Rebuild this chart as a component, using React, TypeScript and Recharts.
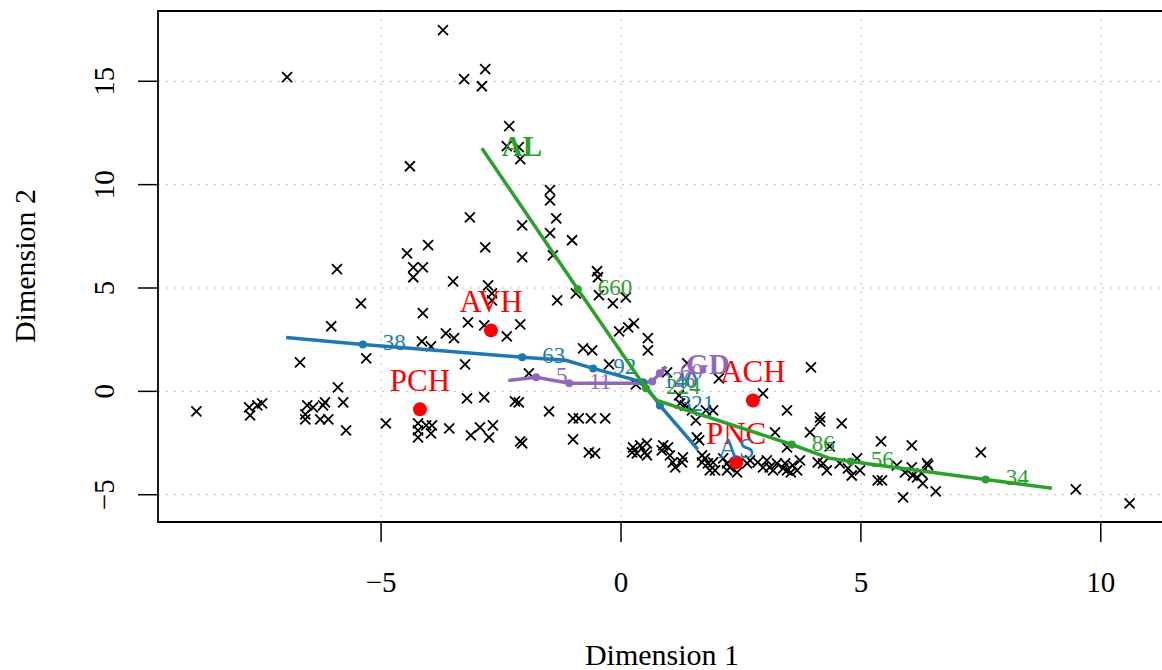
import React from 'react';
import { ScatterChart, Scatter, XAxis, YAxis, CartesianGrid, ReferenceArea, Label } from 'recharts';

const FONT = "'Liberation Serif', 'Times New Roman', Times, serif";

const X_DOMAIN: [number, number] = [-9.65, 11.38];
const Y_DOMAIN: [number, number] = [-6.32, 18.4];
const X_TICKS = [-5, 0, 5, 10];
const Y_TICKS = [-5, 0, 5, 10, 15];
const X_TITLE = 'Dimension 1';
const Y_TITLE = 'Dimension 2';

// observations (black crosses)
const OBS_X = [
  -6.96, -3.71, -2.83, -3.27, -2.90, -2.33, -2.38, -2.13, -2.10, -4.40,
  -1.48, -1.48, -1.35, -3.15, -2.06, -1.48, -1.02, -4.02, -4.46, -2.83,
  -2.06, -1.42, -5.92, -4.33, -4.13, -4.33, -3.50, -0.50, -0.48, -2.77,
  -2.69, -2.69, -0.94, -0.46, -5.42, -1.33, -0.17, 0.10, -4.13, -6.04,
  -3.19, -2.85, -2.10, -0.04, 0.15, 0.27, -3.65, -3.48, -2.38, -4.15,
  -3.96, 0.56, 0.56, -0.79, -0.60, -6.69, -5.31, -3.25, -0.25, -1.92,
  0.96, 1.38, 2.04, 3.96, -5.90, 0.31, 2.96,
  -8.85, -7.75, -7.58, -7.48, -7.73, -6.54, -6.42, -6.58, -6.58, -6.17,
  -6.21, -6.27, -6.10, -5.79, -5.73, -4.90, -3.21, -2.85, -2.21, -2.13,
  -4.23, -4.23, -4.23, -4.06, -3.94, -3.96, -3.58, -3.13, -2.94, -2.67,
  -2.75, -2.10, -2.06, -1.50, -1.00, -0.88, -0.63, -0.33, -1.00, -0.67, -0.54,
  1.21, 1.23, 1.33, 1.48, 1.77, 1.92, 1.56, 1.58, 1.63, 3.46,
  3.21, 3.94, 3.46, 4.15, 4.15, 4.60, 4.35, 5.42, 6.06, 7.50,
  9.48, 10.60, 5.88, 6.56,
  0.25, 0.40, 0.54, 0.23, 0.33, 0.50, 0.54, 0.88, 0.98, 0.85,
  1.02, 1.08, 1.13, 1.29, 1.27, 1.69, 1.75, 1.69, 1.81, 1.92,
  1.85, 1.96, 2.13, 2.21, 2.27, 2.21, 2.42, 2.63, 2.69, 2.85,
  2.96, 3.04, 3.10, 3.25, 3.17, 3.42, 3.46, 3.58, 3.67, 3.73,
  3.38, 3.54,
  4.10, 4.29, 4.21, 4.56, 4.73, 4.81, 4.92, 4.98, 5.35, 5.44,
  5.75, 5.92, 6.06, 6.08, 6.17, 6.27, 6.29, 6.38, 6.40,
];
const OBS_Y = [
  15.20, 17.47, 15.59, 15.10, 14.76, 12.83, 11.86, 11.81, 11.23, 10.89,
  9.73, 9.24, 8.37, 8.42, 8.03, 7.65, 7.31, 7.07, 6.68, 6.97,
  6.49, 6.58, 5.91, 6.00, 6.00, 5.52, 5.32, 5.81, 5.52, 5.13,
  4.74, 4.40, 4.74, 4.65, 4.26, 4.40, 4.26, 4.55, 3.78, 3.15,
  3.34, 3.19, 3.24, 2.90, 3.10, 3.29, 2.81, 2.57, 2.66, 2.42,
  2.18, 2.57, 1.98, 2.08, 1.98, 1.40, 1.60, 1.31, 1.31, 0.87,
  0.92, 1.36, 0.63, 1.16, 0.19, 0.34, -0.10,
  -0.97, -0.77, -0.68, -0.58, -1.16, -0.68, -0.77, -1.11, -1.36, -0.53,
  -0.68, -1.36, -1.36, -0.53, -1.89, -1.55, -0.34, -0.29, -0.48, -0.53,
  -1.55, -1.89, -2.23, -1.65, -1.65, -2.03, -1.79, -2.13, -1.74, -1.65,
  -2.23, -2.42, -2.52, -0.97, -1.31, -1.31, -1.31, -1.31, -2.32, -2.95, -3.00,
  -0.19, -0.58, -0.68, -0.92, -0.92, -0.92, -1.40, -2.23, -2.37, -0.92,
  -1.98, -1.98, -2.71, -1.26, -1.45, -1.55, -2.66, -2.42, -2.61, -2.95,
  -4.74, -5.42, -5.13, -4.84,
  -2.71, -2.61, -2.52, -2.95, -3.00, -2.95, -3.10, -2.61, -2.71, -2.86,
  -3.10, -3.44, -3.68, -3.19, -3.44, -3.10, -3.24, -3.44, -3.48, -3.44,
  -3.82, -3.82, -3.24, -3.48, -3.68, -3.82, -3.92, -3.48, -3.34, -3.44,
  -3.68, -3.34, -3.68, -3.48, -3.82, -3.48, -3.82, -3.58, -3.82, -3.34,
  -3.73, -3.92,
  -3.44, -3.82, -3.48, -3.48, -3.73, -4.07, -3.24, -3.82, -4.31, -4.31,
  -3.58, -3.92, -3.68, -4.07, -4.16, -3.97, -4.45, -3.48, -3.58,
];

// group centroids (red)
const CENTROID_NAMES = ['AVH', 'PCH', 'ACH', 'PNC'];
const CENTROID_X = [-2.71, -4.19, 2.75, 2.40];
const CENTROID_Y = [2.95, -0.87, -0.44, -3.43];

// paths
const AS_X = [-6.98, -5.38, -2.06, -1.15, -0.58, 0.46, 0.81, 1.60];
const AS_Y = [2.61, 2.27, 1.65, 1.50, 1.11, 0.44, -0.68, -2.81];
const AS_LABELS = ['', '38', '63', '', '92', '140', '321', 'AS'];

const AL_X = [-2.90, -0.90, 0.52, 0.75, 3.56, 4.35, 4.79, 7.60, 8.98];
const AL_Y = [11.76, 4.94, 0.15, -0.44, -2.57, -3.24, -3.39, -4.26, -4.69];
const AL_LABELS = ['AL', '660', '224', '', '86', '', '56', '34', ''];

const GD_X = [-2.35, -1.77, -1.08, 0.40, 0.65, 0.81, 0.94];
const GD_Y = [0.53, 0.68, 0.39, 0.39, 0.48, 0.87, 1.21];
const GD_LABELS = ['', '5', '11', '', '26', '60', 'GD'];

const BLUE = '#1f77b4';
const GREEN = '#2ca02c';
const PURPLE = '#9467bd';
const RED = '#ff0000';

const fmt = (v: number) => (v < 0 ? '\u2212' + Math.abs(v) : String(v));

const obsData = OBS_X.map((x, i) => ({ x, y: OBS_Y[i] }));
const centroidData = CENTROID_X.map((x, i) => ({ x, y: CENTROID_Y[i], label: CENTROID_NAMES[i] }));
const makePath = (xs: number[], ys: number[], labels: string[]) =>
  xs.map((x, i) => ({ x, y: ys[i], label: labels[i] }));
const asData = makePath(AS_X, AS_Y, AS_LABELS);
const alData = makePath(AL_X, AL_Y, AL_LABELS);
const gdData = makePath(GD_X, GD_Y, GD_LABELS);

const Cross = (props: any) => {
  const { cx, cy } = props;
  const s = 5;
  return (
    <path
      d={`M${cx - s},${cy - s}L${cx + s},${cy + s}M${cx - s},${cy + s}L${cx + s},${cy - s}`}
      stroke="#000"
      strokeWidth={1.8}
      fill="none"
    />
  );
};

const Centroid = (props: any) => {
  const { cx, cy, payload } = props;
  return (
    <g>
      <circle cx={cx} cy={cy} r={7} fill={RED} />
      <text x={cx} y={cy - 18} textAnchor="middle" fontFamily={FONT} fontSize={31} fill={RED}>
        {payload.label}
      </text>
    </g>
  );
};

const pathNode = (color: string, boldName: boolean) => (props: any) => {
  const { cx, cy, payload } = props;
  const label: string = payload.label;
  if (!label) return <g />;
  const isName = /[A-Z]/.test(label);
  return (
    <g>
      {!isName && <circle cx={cx} cy={cy} r={4} fill={color} />}
      <text
        x={cx + 20}
        y={cy - 2}
        dy="0.35em"
        fontFamily={FONT}
        fontSize={isName ? 29 : 23}
        fontWeight={isName && boldName ? 'bold' : 'normal'}
        fill={color}
      >
        {label}
      </text>
    </g>
  );
};

const XTick = (props: any) => {
  const { x, payload } = props;
  return (
    <text x={x} y={592} textAnchor="middle" fontFamily={FONT} fontSize={29} fill="#000">
      {fmt(payload.value)}
    </text>
  );
};

const YTick = (props: any) => {
  const { y, payload } = props;
  return (
    <text
      x={114}
      y={y}
      transform={`rotate(-90, 114, ${y})`}
      textAnchor="middle"
      fontFamily={FONT}
      fontSize={29}
      fill="#000"
    >
      {fmt(payload.value)}
    </text>
  );
};

export default function App() {
  return (
    <div
      style={{
        position: 'absolute',
        left: 0,
        top: 0,
        width: 1162,
        height: 670,
        overflow: 'hidden',
        background: '#fff',
      }}
    >
      <ScatterChart width={1180} height={670} margin={{ top: 11, right: 13, bottom: 0, left: 0 }}>
        <CartesianGrid stroke="#c8c8c8" strokeDasharray="2 6" strokeWidth={1.2} />
        <XAxis
          type="number"
          dataKey="x"
          domain={X_DOMAIN}
          ticks={X_TICKS}
          allowDataOverflow
          height={148}
          axisLine={false}
          tickSize={20}
          tickLine={{ stroke: '#000', strokeWidth: 1.5 }}
          tick={<XTick />}
        >
          <Label
            content={() => (
              <text x={662} y={665} textAnchor="middle" fontFamily={FONT} fontSize={30} fill="#000">
                {X_TITLE}
              </text>
            )}
          />
        </XAxis>
        <YAxis
          type="number"
          dataKey="y"
          domain={Y_DOMAIN}
          ticks={Y_TICKS}
          allowDataOverflow
          width={158}
          axisLine={false}
          tickSize={20}
          tickLine={{ stroke: '#000', strokeWidth: 1.5 }}
          tick={<YTick />}
        >
          <Label
            content={() => (
              <text
                x={35}
                y={266}
                transform="rotate(-90, 35, 266)"
                textAnchor="middle"
                fontFamily={FONT}
                fontSize={30}
                fill="#000"
              >
                {Y_TITLE}
              </text>
            )}
          />
        </YAxis>
        <ReferenceArea
          x1={X_DOMAIN[0]}
          x2={X_DOMAIN[1]}
          y1={Y_DOMAIN[0]}
          y2={Y_DOMAIN[1]}
          fill="none"
          fillOpacity={0}
          stroke="#000"
          strokeWidth={1.8}
          ifOverflow="visible"
        />
        <Scatter data={obsData} shape={<Cross />} isAnimationActive={false} />
        <Scatter
          data={gdData}
          line={{ stroke: PURPLE, strokeWidth: 3.5 }}
          lineType="joint"
          shape={pathNode(PURPLE, true)}
          isAnimationActive={false}
        />
        <Scatter data={centroidData} shape={<Centroid />} isAnimationActive={false} />
        <Scatter
          data={asData}
          line={{ stroke: BLUE, strokeWidth: 3.5 }}
          lineType="joint"
          shape={pathNode(BLUE, false)}
          isAnimationActive={false}
        />
        <Scatter
          data={alData}
          line={{ stroke: GREEN, strokeWidth: 3.5 }}
          lineType="joint"
          shape={pathNode(GREEN, true)}
          isAnimationActive={false}
        />
      </ScatterChart>
    </div>
  );
}
